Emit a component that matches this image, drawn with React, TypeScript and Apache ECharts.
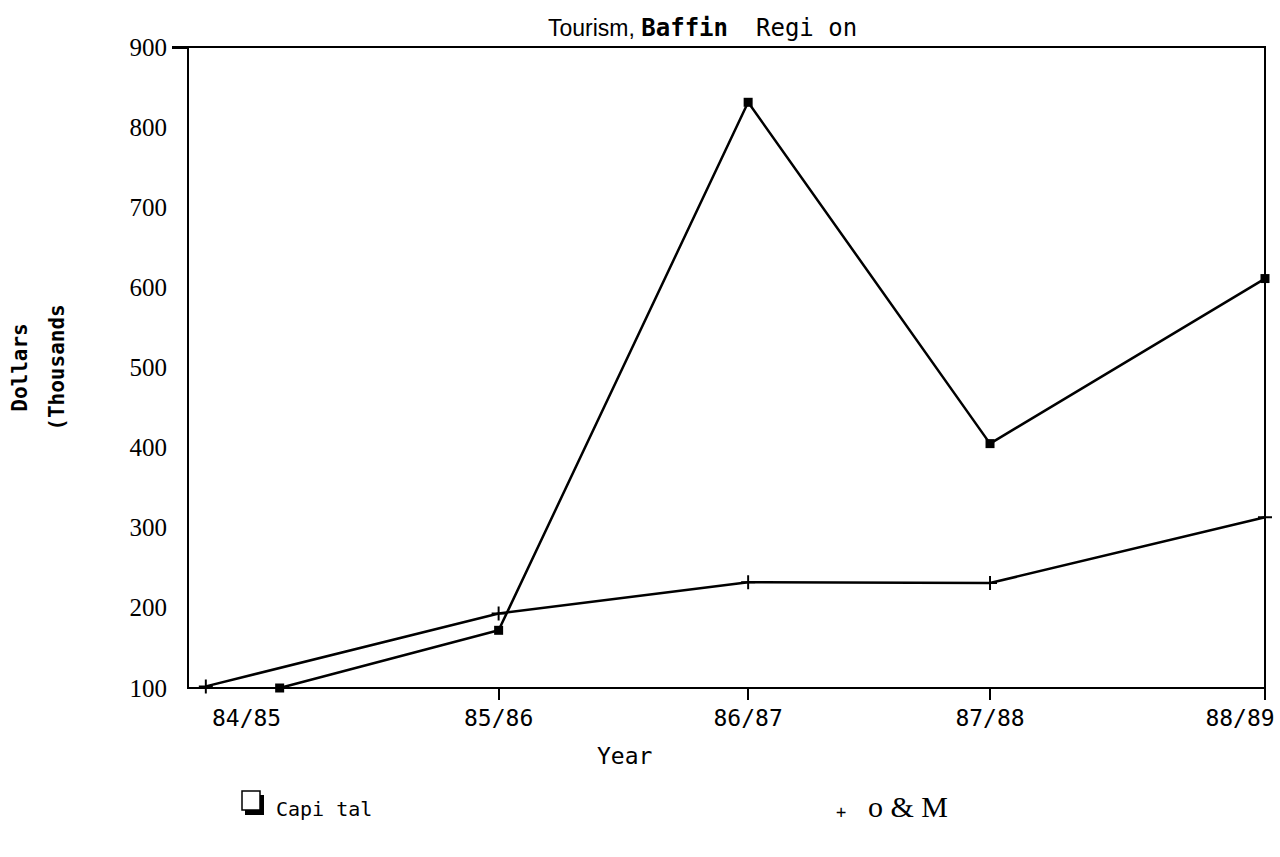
import React, { useEffect, useRef } from "react";
import * as echarts from "echarts";

const years = ["84/85", "85/86", "86/87", "87/88", "88/89"];
const yearPos = [0, 0.99, 1.97, 2.92, 4];
const capitalX = [0.13, 0.99, 1.97, 2.92, 4];
const capitalValues = [100, 172, 831, 405, 611];
const omX = [-0.16, 0.99, 1.97, 2.92, 4];
const omValues = [102, 193, 232, 231, 313];
const yMin = 100;
const yMax = 900;
const yStep = 100;

const MONO = "DejaVu Sans Mono";
const SERIF = "Liberation Serif";
const SANS = "Liberation Sans";

export default function App() {
  const ref = useRef<HTMLDivElement>(null);
  useEffect(() => {
    if (!ref.current) return;
    const chart = echarts.init(ref.current, null, { renderer: "svg" });
    const plus = "path://M4.3,0h1.4v10h-1.4z M0,4.3h10v1.4h-10z";
    chart.setOption({
      animation: false,
      backgroundColor: "#fff",
      title: {
        text: "{a|Tourism,} {b|Baffin}{s| }{c|Regi on}",
        left: 543,
        top: 11,
        textStyle: {
          fontFamily: SANS,
          fontSize: 23,
          fontWeight: "normal",
          color: "#000",
          rich: {
            a: { fontFamily: SANS, fontSize: 23, fontWeight: "normal", color: "#000" },
            b: { fontFamily: MONO, fontWeight: "bold", fontSize: 24, color: "#000" },
            s: { fontFamily: MONO, fontWeight: "normal", fontSize: 24, color: "#000", width: 28 },
            c: { fontFamily: MONO, fontSize: 24, fontWeight: "normal", color: "#000" },
          },
        },
      },
      grid: {
        left: 188,
        right: 15,
        top: 47,
        bottom: 169,
        show: true,
        borderColor: "#000",
        borderWidth: 2,
        outerBoundsMode: "none",
      },
      xAxis: {
        type: "value",
        min: -0.23,
        max: 4,
        splitLine: { show: false },
        axisLine: { show: true, onZero: false, lineStyle: { color: "#000", width: 2 } },
        axisTick: {
          show: true,
          customValues: yearPos.slice(1),
          length: 12,
          lineStyle: { color: "#000", width: 2 },
        },
        axisLabel: {
          customValues: yearPos,
          margin: 18,
          fontFamily: MONO,
          fontSize: 23,
          color: "#000",
          formatter: (v: number) => {
            const i = yearPos.indexOf(v);
            if (i < 0) return "";
            return i === years.length - 1 ? "{r|" + years[i] + "}" : years[i];
          },
          rich: {
            r: { fontFamily: MONO, fontSize: 23, color: "#000", padding: [0, 50, 0, 0] },
          },
        },
      },
      yAxis: {
        type: "value",
        min: yMin,
        max: yMax,
        interval: yStep,
        name: "Dollars\n(Thousands",
        nameLocation: "middle",
        nameRotate: 90,
        nameGap: 113,
        nameTextStyle: {
          fontFamily: MONO,
          fontWeight: "bold",
          fontSize: 21,
          color: "#000",
          lineHeight: 37,
        },
        splitLine: { show: false },
        axisLine: { show: true, onZero: false, lineStyle: { color: "#000", width: 2 } },
        axisTick: {
          show: true,
          customValues: [yMax],
          length: 16,
          lineStyle: { color: "#000", width: 3 },
        },
        axisLabel: {
          margin: 21,
          fontFamily: SERIF,
          fontSize: 25,
          color: "#000",
        },
      },
      graphic: [
        { type: "text", left: 597, top: 744, style: { text: "Year", fontFamily: MONO, fontSize: 23, fill: "#000" } },
        { type: "rect", shape: { x: 245, y: 795, width: 19, height: 20 }, style: { fill: "#000" } },
        { type: "rect", shape: { x: 242, y: 791, width: 18, height: 19 }, style: { fill: "#fff", stroke: "#000", lineWidth: 1.5 } },
        { type: "text", left: 276, top: 799, style: { text: "Capi tal", fontFamily: MONO, fontSize: 20, fill: "#000" } },
        { type: "text", left: 836, top: 803, style: { text: "+", fontFamily: MONO, fontSize: 17, fill: "#000" } },
        { type: "text", left: 868, top: 791, style: { text: "o & M", fontFamily: SERIF, fontSize: 30, fill: "#000" } },
      ],
      series: [
        {
          name: "Capital",
          type: "line",
          data: capitalX.map((x, i) => [x, capitalValues[i]]),
          symbol: "rect",
          symbolSize: 9,
          lineStyle: { color: "#000", width: 2.5 },
          itemStyle: { color: "#000" },
        },
        {
          name: "O & M",
          type: "line",
          data: omX.map((x, i) => [x, omValues[i]]),
          symbol: plus,
          symbolSize: 14,
          lineStyle: { color: "#000", width: 2.5 },
          itemStyle: { color: "#000" },
        },
      ],
    });
    return () => chart.dispose();
  }, []);
  return (
    <div
      ref={ref}
      style={{ position: "fixed", left: 0, top: 0, width: 1280, height: 857, background: "#fff" }}
    />
  );
}
